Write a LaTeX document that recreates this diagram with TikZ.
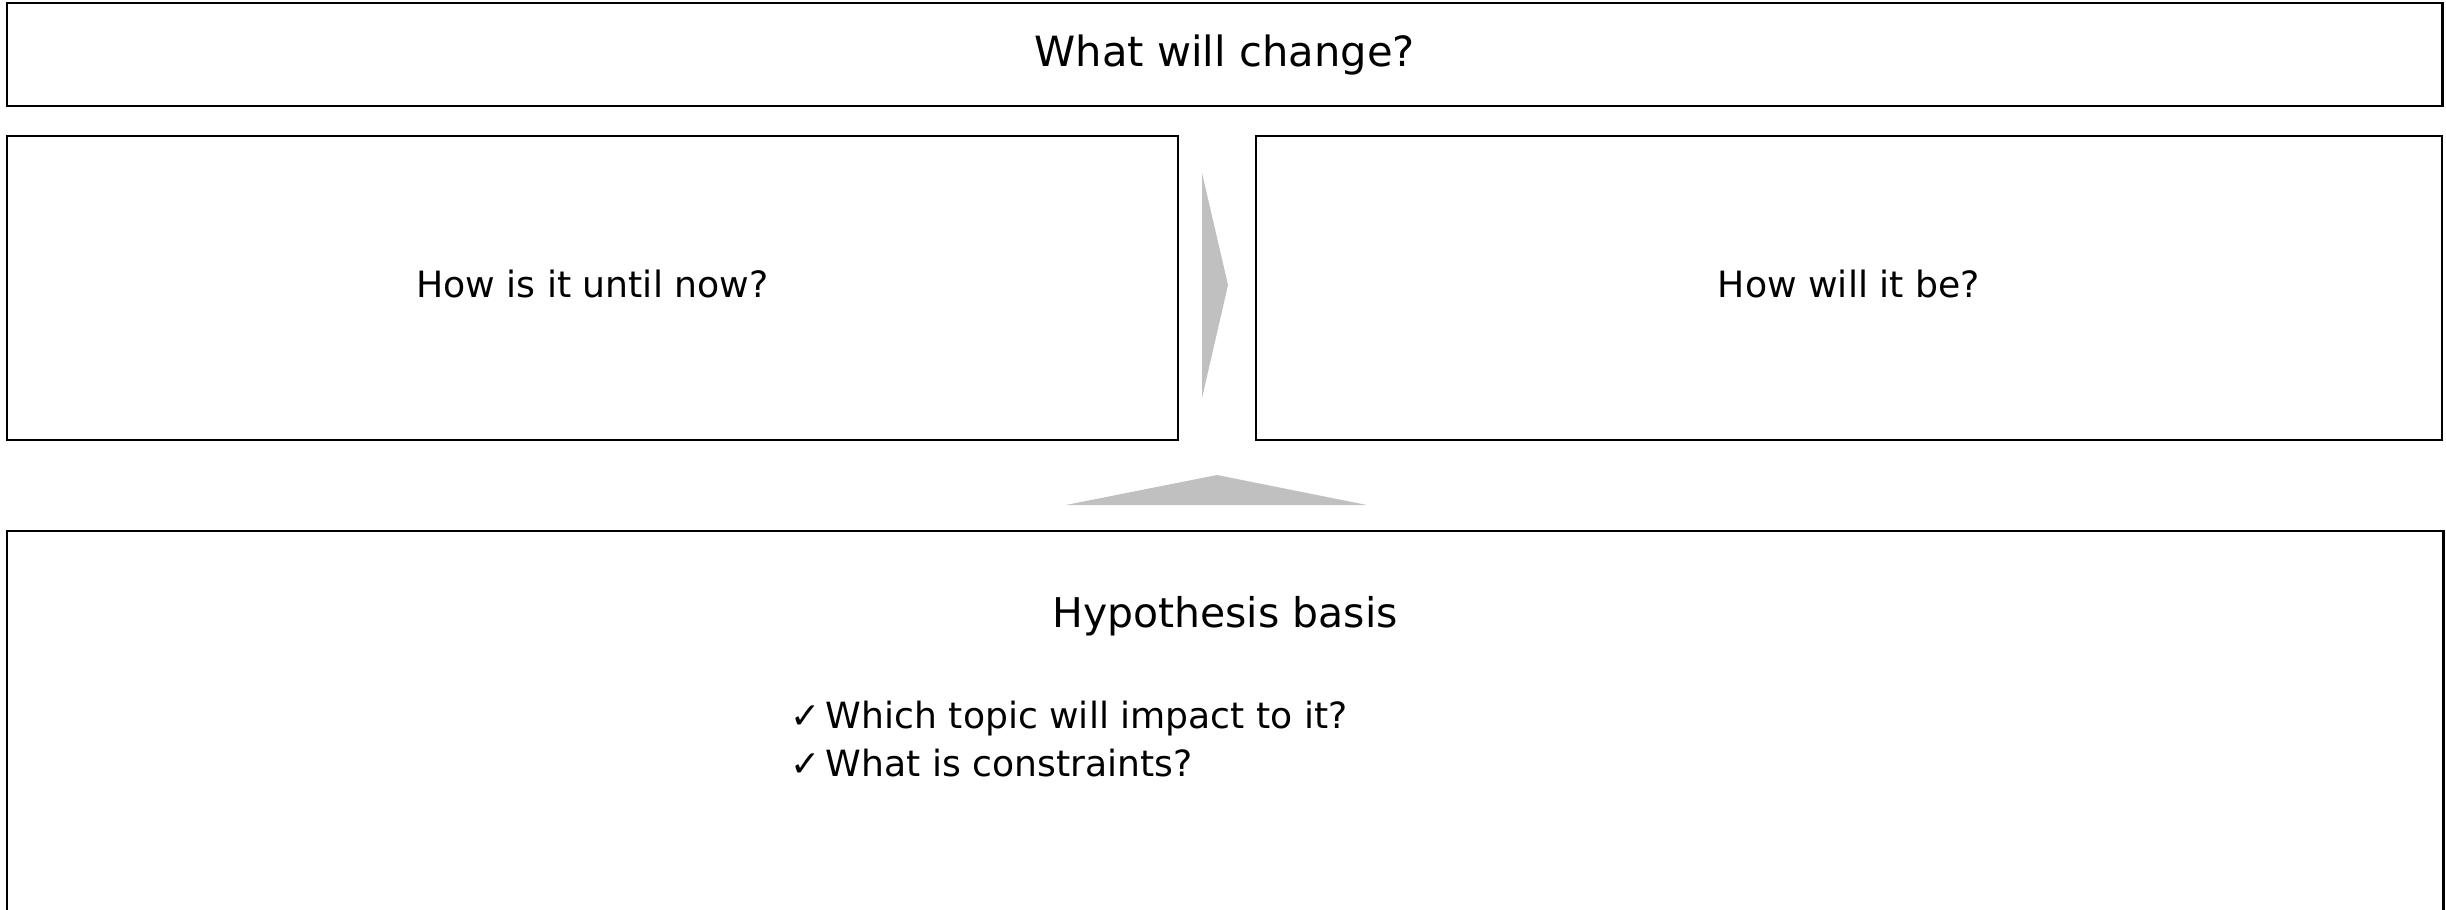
\documentclass[tikz,border=0pt]{standalone}
\usepackage{fontspec}
\setmainfont{DejaVu Sans}
\definecolor{arrowgray}{RGB}{192,192,192}
\begin{document}
\begin{tikzpicture}[x=0.01cm,y=-0.01cm,
  box/.style={draw=black,line width=0.6pt,inner sep=0pt,outer sep=0pt,anchor=north west},
  titletext/.style={font=\fontsize{11.84}{14}\selectfont,text height=0.3cm,text depth=0.07cm},
  midtext/.style={font=\fontsize{10.3}{12}\selectfont,text height=0.26cm,text depth=0.08cm},
  hyptext/.style={font=\fontsize{11.64}{14}\selectfont,anchor=base,inner sep=0pt},
  bullettext/.style={font=\fontsize{10.27}{12}\selectfont,anchor=base west,inner sep=0pt},
  shapearrow/.style={fill=arrowgray,draw=none}]
\clip (0,0) rectangle (2446,909);
\fill[white] (0,0) rectangle (2446,909);
% boxes
\node[box,titletext,minimum width=24.34cm,minimum height=1.03cm] (change) at (7,3) {What will change?};
\node[box,midtext,minimum width=11.70cm,minimum height=3.04cm] (now) at (7,136) {How is it until now?};
\node[box,midtext,minimum width=11.85cm,minimum height=3.04cm] (be) at (1256,136) {How will it be?};
\node[box,minimum width=24.35cm,minimum height=5.0cm] (hyp) at (7,531) {};
% texts in the hypothesis box
\node[hyptext] (hyptitle) at (1225,627) {Hypothesis basis};
\node[bullettext] (b1) at (790,728) {✓\hspace{0.05cm}Which topic will impact to it?};
\node[bullettext] (b2) at (790,776) {✓\hspace{0.05cm}What is constraints?};
% gray arrow shapes
\coordinate (ra1) at (1202,173);
\coordinate (ra2) at (1228,285);
\coordinate (ra3) at (1202,398);
\fill[shapearrow] (ra1) -- (ra2) -- (ra3) -- cycle;
\coordinate (ua1) at (1066,505);
\coordinate (ua2) at (1217,475);
\coordinate (ua3) at (1367,505);
\fill[shapearrow] (ua1) -- (ua2) -- (ua3) -- cycle;
\end{tikzpicture}
\end{document}
